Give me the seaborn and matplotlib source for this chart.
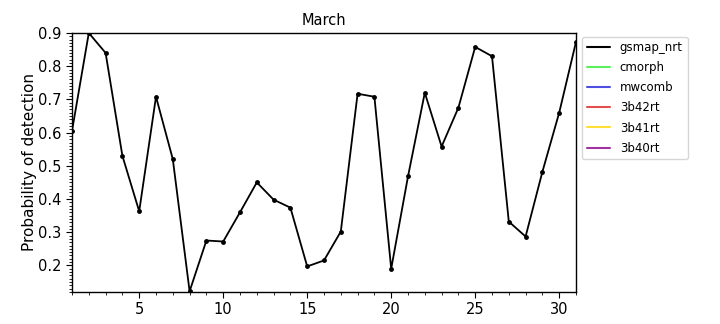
import matplotlib
matplotlib.use("Agg")
import matplotlib.pyplot as plt
import seaborn as sns
import pandas as pd
from matplotlib.ticker import MultipleLocator
from matplotlib.lines import Line2D

days = list(range(1, 32))
gsmap_nrt = [0.605, 0.90, 0.84, 0.53, 0.363, 0.708, 0.52, 0.122, 0.275, 0.272,
             0.36, 0.45, 0.398, 0.374, 0.197, 0.215, 0.302, 0.717, 0.708, 0.19,
             0.468, 0.72, 0.558, 0.675, 0.858, 0.83, 0.332, 0.287, 0.482, 0.66, 0.873]
series_names = ["gsmap_nrt", "cmorph", "mwcomb", "3b42rt", "3b41rt", "3b40rt"]
series_colors = ["black", "#33ee33", "#2222dd", "#dd2222", "#ffd700", "#880088"]
x_ticks = [5, 10, 15, 20, 25, 30]
y_ticks = [0.2, 0.3, 0.4, 0.5, 0.6, 0.7, 0.8, 0.9]

sns.set_style("white")
plt.rcParams['font.family'] = ['DejaVu Sans']
plt.rcParams.update({"text.color": "black", "axes.labelcolor": "black",
                     "xtick.color": "black", "ytick.color": "black"})

fig = plt.figure(figsize=(7.2, 3.24), dpi=100)
ax = fig.add_axes([0.1, 0.0988, 0.7, 0.7994])

df = pd.DataFrame({"day": days, "value": gsmap_nrt})
sns.lineplot(data=df, x="day", y="value", ax=ax, color="black", marker="o",
             markersize=3.5, markeredgewidth=0, linewidth=1.3, legend=False)

handles = [Line2D([], [], color=c, linewidth=1.5, alpha=0.8 if c != "black" else 1.0)
           for c in series_colors]

ax.set_xlim(1, 31)
ax.set_ylim(0.12, 0.9)
ax.set_xticks(x_ticks)
ax.set_yticks(y_ticks)
ax.xaxis.set_minor_locator(MultipleLocator(1))
ax.yaxis.set_minor_locator(MultipleLocator(0.01))
ax.tick_params(axis="both", which="major", labelsize=10.5, length=4, bottom=True, left=True,
               direction="out", colors="black")
ax.tick_params(axis="both", which="minor", length=2, bottom=True, left=True, direction="out",
               colors="black")
for s in ax.spines.values():
    s.set_color("black")
    s.set_linewidth(1.0)
ax.set_xlabel("")
ax.set_ylabel("Probability of detection", fontsize=11, labelpad=1)
ax.set_title("March", fontsize=10.5)
ax.legend(handles, series_names, loc="upper left", bbox_to_anchor=(1.005, 1.0), fontsize=8.5,
          frameon=True, borderaxespad=0.3, handlelength=2.0, labelspacing=0.6)

fig.savefig("out.png", dpi=100)
